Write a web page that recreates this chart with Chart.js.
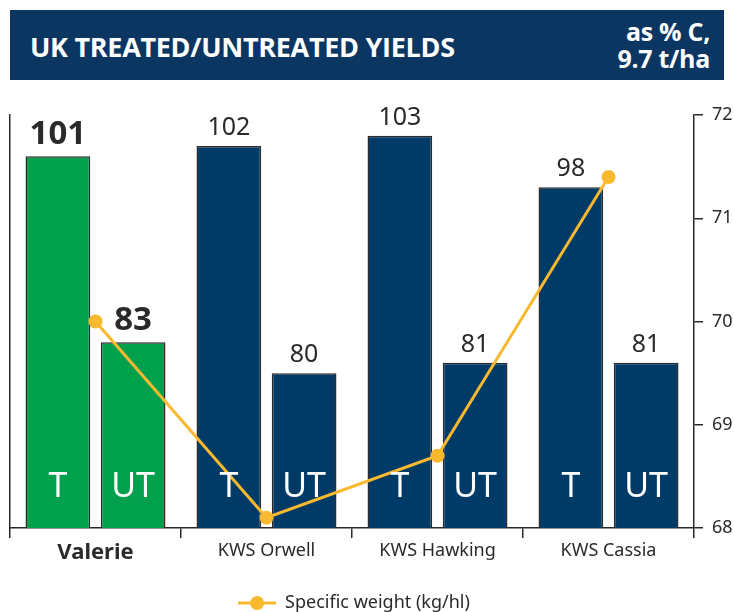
<!DOCTYPE html>
<html>
<head>
<meta charset="utf-8">
<script src="https://cdn.jsdelivr.net/npm/chart.js@4"></script>
<style>
  body { margin: 0; background: #fff; width: 734px; height: 612px; position: relative; overflow: hidden; }
  #head {
    position: absolute; left: 10px; top: 10px; width: 714px; height: 70px;
    background: #0B3661; color: #fff; font-family: "Open Sans", sans-serif; font-weight: bold;
  }
  #head .t { position: absolute; left: 20px; top: 18px; font-size: 27px; letter-spacing: -0.3px; }
  #head .s { position: absolute; right: 14px; top: 8px; font-size: 25px; text-align: right; line-height: 27px; letter-spacing: -0.3px; }
  #wrap { position: absolute; left: 0; top: 88px; width: 734px; height: 534px; }
</style>
</head>
<body>
<div id="head"><div class="t">UK TREATED/UNTREATED YIELDS</div><div class="s">as % C,<br>9.7 t/ha</div></div>
<div id="wrap"><canvas id="chart"></canvas></div>
<script>
// DATOS
const varieties = ["Valerie", "KWS Orwell", "KWS Hawking", "KWS Cassia"];
const treated = [101, 102, 103, 98];
const untreated = [83, 80, 81, 81];
const specificWeight = [70, 68.1, 68.7, 71.4];
const weightTicks = [68, 69, 70, 71, 72];

const green = "#00A04C";
const navy = "#003B68";
const gold = "#F9B92F";
const ink = "#2A2A2A";
const font = "'Noto Sans', 'Open Sans', sans-serif";

const barColors = varieties.map((v, i) => i === 0 ? green : navy);

// icono de la leyenda: linea con punto
const icon = document.createElement("canvas");
icon.width = 38; icon.height = 16;
const ic = icon.getContext("2d");
ic.strokeStyle = gold; ic.lineWidth = 3;
ic.beginPath(); ic.moveTo(0, 8); ic.lineTo(38, 8); ic.stroke();
ic.fillStyle = gold;
ic.beginPath(); ic.arc(19, 8, 7, 0, Math.PI * 2); ic.fill();

// ETIQUETAS
const labelsPlugin = {
  id: "barLabels",
  afterUpdate(chart) {
    // centrar la leyenda bajo el area del grafico
    if (chart.legend) chart.legend.right -= 36;
  },
  afterDatasetsDraw(chart) {
    const ctx = chart.ctx;
    ctx.save();
    ctx.textAlign = "center";
    [0, 1].forEach(di => {
      const meta = chart.getDatasetMeta(di);
      const vals = chart.data.datasets[di].data;
      meta.data.forEach((bar, i) => {
        ctx.fillStyle = ink;
        ctx.textBaseline = "alphabetic";
        ctx.font = i === 0 ? "bold 33px " + font : "25px " + font;
        ctx.fillText(vals[i], bar.x, bar.y - (i === 0 ? 12 : 11));
        ctx.fillStyle = "#fff";
        ctx.textBaseline = "middle";
        ctx.font = "34px " + font;
        ctx.fillText(di === 0 ? "T" : "UT", bar.x, chart.chartArea.bottom - 41);
      });
    });
    ctx.restore();
  }
};

new Chart(document.getElementById("chart"), {
  type: "bar",
  data: {
    labels: varieties,
    datasets: [
      { label: "T", data: treated, backgroundColor: barColors, borderColor: ink, borderWidth: 1.5,
        yAxisID: "y", order: 2, barPercentage: 0.86, categoryPercentage: 0.88 },
      { label: "UT", data: untreated, backgroundColor: barColors, borderColor: ink, borderWidth: 1.5,
        yAxisID: "y", order: 2, barPercentage: 0.86, categoryPercentage: 0.88 },
      { type: "line", label: "Specific weight (kg/hl)", data: specificWeight, yAxisID: "y1", order: 0,
        borderColor: gold, backgroundColor: gold, borderWidth: 3, pointRadius: 7, pointHoverRadius: 7,
        pointBorderWidth: 0, pointStyle: "circle", tension: 0 }
    ]
  },
  options: {
    responsive: true,
    maintainAspectRatio: false,
    animation: false,
    layout: { padding: { left: 10, top: 27, right: 0, bottom: 0 } },
    plugins: {
      tooltip: { enabled: false },
      legend: {
        position: "bottom",
        labels: {
          usePointStyle: true,
          pointStyleWidth: 38,
          color: ink,
          font: { family: font, size: 18 },
          padding: 5,
          generateLabels: chart => [{
            text: "Specific weight (kg/hl)", pointStyle: icon, datasetIndex: 2,
            fillStyle: gold, strokeStyle: gold, lineWidth: 0, fontColor: ink
          }]
        }
      }
    },
    scales: {
      x: {
        grid: { offset: true, drawOnChartArea: false, tickLength: 10, color: ink, lineWidth: 1.5 },
        border: { display: true, color: ink, width: 1.5 },
        ticks: {
          color: ink, padding: 2,
          font: c => c.index === 0 ? { family: font, size: 22, weight: "bold" } : { family: font, size: 18 }
        },
        afterFit: s => { s.height = 61; }
      },
      y: {
        position: "left", min: 65, max: 105,
        grid: { display: false },
        border: { display: true, color: ink, width: 1.5 },
        ticks: { display: false },
        afterFit: s => { s.width = 0; }
      },
      y1: {
        position: "right", min: 68, max: 72,
        afterBuildTicks: s => { s.ticks = weightTicks.map(v => ({ value: v })); },
        grid: { drawOnChartArea: false, tickLength: 9, color: ink, lineWidth: 1.5 },
        border: { display: true, color: ink, width: 1.5 },
        ticks: { color: ink, padding: 9, font: { family: font, size: 18 } },
        afterFit: s => { s.width = 40; }
      }
    }
  },
  plugins: [labelsPlugin]
});
</script>
</body>
</html>
